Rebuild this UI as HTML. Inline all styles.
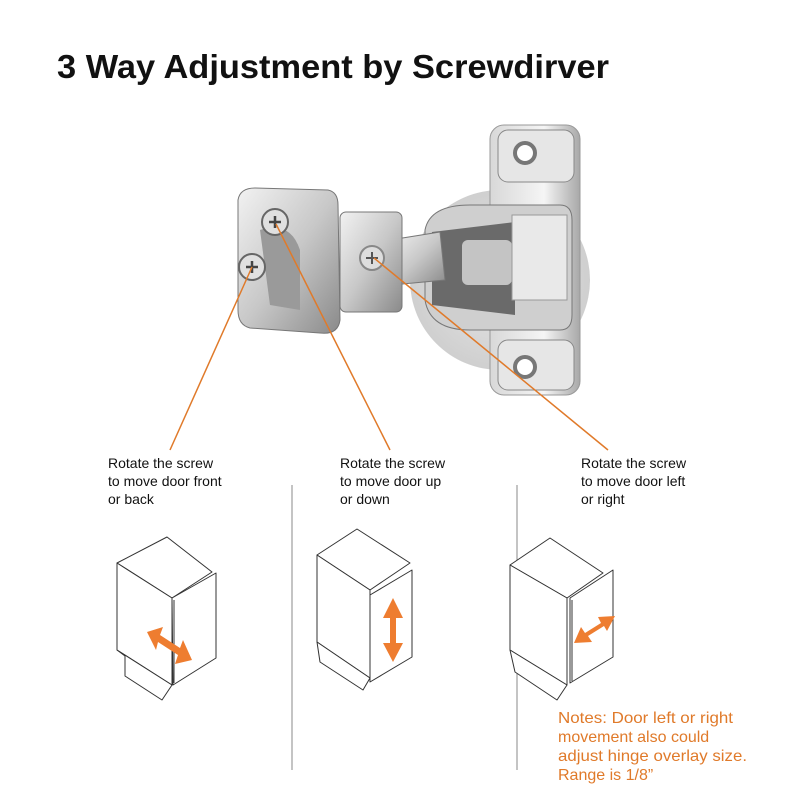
<!DOCTYPE html>
<html><head><meta charset="utf-8"><style>
html,body{margin:0;padding:0;background:#fff;}
svg{display:block;}
text{font-family:"Liberation Sans",Arial,sans-serif;}
</style></head><body>
<svg width="800" height="800" viewBox="0 0 800 800" xmlns="http://www.w3.org/2000/svg">
<defs>
<linearGradient id="m1" x1="0" y1="0" x2="1" y2="1"><stop offset="0" stop-color="#f2f2f2"/><stop offset="0.5" stop-color="#c8c8c8"/><stop offset="1" stop-color="#8a8a8a"/></linearGradient>
<linearGradient id="m2" x1="0" y1="0" x2="1" y2="0"><stop offset="0" stop-color="#d8d8d8"/><stop offset="0.6" stop-color="#f5f5f5"/><stop offset="1" stop-color="#a8a8a8"/></linearGradient>
<radialGradient id="cup" cx="0.5" cy="0.5" r="0.5"><stop offset="0" stop-color="#e8e8e8"/><stop offset="1" stop-color="#cfcfcf"/></radialGradient>
</defs>
<text x="57" y="78" font-size="33" font-weight="bold" fill="#111" textLength="552" lengthAdjust="spacingAndGlyphs">3 Way Adjustment by Screwdirver</text>

<!-- hinge right plate -->
<circle cx="500" cy="280" r="90" fill="url(#cup)"/>
<rect x="490" y="125" width="90" height="270" rx="14" fill="url(#m2)" stroke="#999"/>
<rect x="498" y="130" width="76" height="52" rx="10" fill="#e6e6e6" stroke="#888"/>
<circle cx="525" cy="153" r="10" fill="#fff" stroke="#777" stroke-width="4"/>
<rect x="498" y="340" width="76" height="50" rx="10" fill="#e6e6e6" stroke="#888"/>
<circle cx="525" cy="367" r="10" fill="#fff" stroke="#777" stroke-width="4"/>
<path d="M425 230 Q430 205 470 205 L560 205 Q572 205 572 220 L572 315 Q572 330 560 330 L470 330 Q430 330 425 300 Z" fill="#cfcfcf" stroke="#777"/>
<path d="M432 232 L515 222 L515 315 L432 305 Z" fill="#6a6a6a"/>
<rect x="462" y="240" width="50" height="45" rx="6" fill="#c4c4c4"/>
<rect x="512" y="215" width="55" height="85" fill="#e9e9e9" stroke="#999"/>
<!-- arm -->
<path d="M390 240 L440 232 L445 280 L392 285 Z" fill="url(#m1)" stroke="#777"/>
<!-- middle plate -->
<rect x="340" y="212" width="62" height="100" rx="6" fill="url(#m1)" stroke="#777"/>
<circle cx="372" cy="258" r="12" fill="#ddd" stroke="#888" stroke-width="2"/>
<path d="M366 258 h12 M372 252 v12" stroke="#555" stroke-width="2"/>
<!-- left block -->
<path d="M238 200 Q240 188 255 188 L328 190 Q338 192 338 205 L340 320 Q338 335 320 333 L250 328 Q238 325 238 310 Z" fill="url(#m1)" stroke="#777"/>
<path d="M260 230 Q290 220 300 250 L300 310 L270 305 Z" fill="#9a9a9a"/>
<circle cx="275" cy="222" r="13" fill="#e0e0e0" stroke="#666" stroke-width="2"/>
<path d="M269 222 h12 M275 216 v12" stroke="#444" stroke-width="2.5"/>
<circle cx="252" cy="267" r="13" fill="#e0e0e0" stroke="#666" stroke-width="2"/>
<path d="M246 267 h12 M252 261 v12" stroke="#444" stroke-width="2.5"/>

<!-- leader lines -->
<g stroke="#e07a2a" stroke-width="1.5">
<line x1="252" y1="267" x2="170" y2="450"/>
<line x1="276" y1="224" x2="390" y2="450"/>
<line x1="374" y1="258" x2="608" y2="450"/>
</g>

<g font-size="14" fill="#111">
<text x="108" y="468">Rotate the screw</text><text x="108" y="486">to move door front</text><text x="108" y="504">or back</text>
<text x="340" y="468">Rotate the screw</text><text x="340" y="486">to move door  up</text><text x="340" y="504">or down</text>
<text x="581" y="468">Rotate the screw</text><text x="581" y="486">to move door left</text><text x="581" y="504">or right</text>
</g>
<line x1="292" y1="485" x2="292" y2="770" stroke="#888" stroke-width="1"/>
<line x1="517" y1="485" x2="517" y2="770" stroke="#888" stroke-width="1"/>

<g fill="#fff" stroke="#333" stroke-width="1" stroke-linejoin="round">
<!-- left cabinet -->
<polygon points="117,563 167,537 212,572 172,598"/>
<polygon points="117,563 172,598 172,685 117,650"/>
<polygon points="117,650 172,685 162,700 125,676 125,656"/>
<polygon points="172,598 216,573 216,658 173,685"/>
<line x1="174" y1="600" x2="174" y2="683"/>
<!-- middle cabinet -->
<polygon points="317,555 357,529 410,563 370,590"/>
<polygon points="317,555 370,590 370,678 317,642"/>
<polygon points="317,642 370,678 363,690 320,662"/>
<polygon points="370,595 412,570 412,657 370,682"/>
<!-- right cabinet -->
<polygon points="510,565 550,538 603,573 567,598"/>
<polygon points="510,565 567,598 567,685 510,650"/>
<polygon points="510,650 567,685 557,700 515,672"/>
<polygon points="570,598 613,570 613,657 570,683"/>
<line x1="572" y1="600" x2="572" y2="681"/>
</g>
<!-- arrows -->
<g fill="#ee7d30">
<polygon points="147,632 163,627 160,635 180,648 183,640 192,660 175,664 178,655 158,642 156,650"/>
<polygon points="393,598 403,618 396,618 396,643 403,643 393,662 383,643 390,643 390,618 383,618"/>
<polygon points="574,643 581,627 585,633 601,623 598,617 615,616 607,631 604,626 588,636 592,642"/>
</g>

<g font-size="16" fill="#e07a2a">
<text x="558" y="723" textLength="175" lengthAdjust="spacingAndGlyphs">Notes: Door left or right</text>
<text x="558" y="742">movement also could</text>
<text x="558" y="761" textLength="189" lengthAdjust="spacingAndGlyphs">adjust hinge overlay size.</text>
<text x="558" y="780">Range is 1/8”</text>
</g>
</svg>
</body></html>
